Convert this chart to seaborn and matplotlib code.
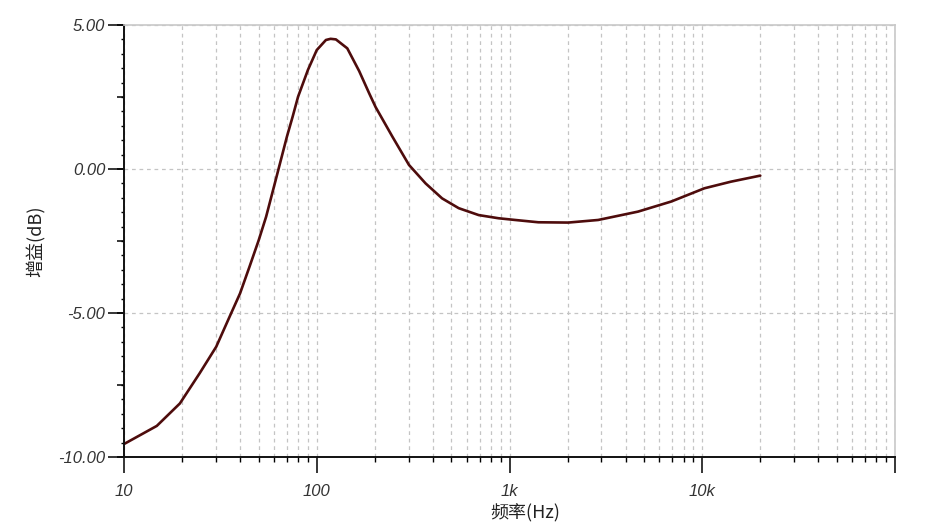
import numpy as np
import pandas as pd
import matplotlib
matplotlib.use("Agg")
import matplotlib.pyplot as plt
from matplotlib.ticker import FixedLocator, FuncFormatter, NullFormatter
import seaborn as sns

# frequency response
freq_hz = [10, 14.8, 19.5, 24.7, 30.1, 35.3, 40, 44.8, 50, 54.6, 60, 70, 75,
           80, 90, 100, 111.6, 118, 125.7, 144, 166, 187, 202, 247, 301, 367,
           447, 545, 692, 877, 1070, 1412, 2018, 2884, 4642, 6900, 10260, 14090, 20000]
gain_db = [-9.55, -8.92, -8.14, -7.09, -6.17, -5.13, -4.32, -3.39, -2.47, -1.66, -0.61, 1.12, 1.82,
           2.51, 3.44, 4.13, 4.48, 4.52, 4.50, 4.19, 3.40, 2.63, 2.15, 1.12, 0.14, -0.50,
           -1.02, -1.36, -1.60, -1.71, -1.77, -1.85, -1.86, -1.77, -1.48, -1.13, -0.67, -0.44, -0.23]

x_major = [10, 100, 1000, 10000, 100000]
x_labels = ["10", "100", "1k", "10k", ""]
y_major = [-10, -5, 0, 5]
y_labels = ["-10.00", "-5.00", "0.00", "5.00"]

df = pd.DataFrame({"freq": freq_hz, "gain": gain_db})

sns.set_style("white")
plt.rcParams["font.family"] = ["Liberation Sans", "Noto Sans CJK SC", "DejaVu Sans"]

fig = plt.figure(figsize=(9.4, 5.31), dpi=100)
ax = fig.add_axes([124 / 940, 1 - 457 / 531, 771 / 940, 432 / 531])

sns.lineplot(data=df, x="freq", y="gain", ax=ax, color="#4e0c0c", linewidth=1.9)

ax.set_xscale("log")
ax.set_xlim(10, 100000)
ax.set_ylim(-10, 5)

# x ticks
ax.xaxis.set_major_locator(FixedLocator(x_major))
ax.xaxis.set_major_formatter(FuncFormatter(lambda v, p: dict(zip(x_major, x_labels)).get(round(v), "")))
minor_x = [m * 10 ** k for k in range(1, 5) for m in range(2, 10)]
ax.xaxis.set_minor_locator(FixedLocator(minor_x))
ax.xaxis.set_minor_formatter(NullFormatter())

# y ticks
ax.yaxis.set_major_locator(FixedLocator(y_major))
ax.yaxis.set_major_formatter(FuncFormatter(lambda v, p: dict(zip(y_major, y_labels)).get(round(v), "")))
ax.yaxis.set_minor_locator(FixedLocator(np.arange(-10, 5.01, 0.5)))

ax.tick_params(axis="both", which="both", bottom=True, left=True, top=False, right=False)
ax.tick_params(axis="both", which="major", direction="out", length=11.5, width=1.1,
               color="black", labelsize=12, labelcolor="#333333")
ax.tick_params(axis="x", which="major", pad=8)
ax.tick_params(axis="y", which="major", pad=2)
ax.tick_params(axis="x", which="minor", direction="out", length=3.6, width=1.0, color="black")
ax.tick_params(axis="y", which="minor", direction="out", length=2.2, width=1.0, color="black")
for lab in ax.get_xticklabels() + ax.get_yticklabels():
    lab.set_fontstyle("italic")

# medium ticks at every 2.5 dB
sec = ax.secondary_yaxis("left")
sec.set_yticks(np.arange(-10, 5.01, 2.5))
sec.set_yticklabels([])
sec.tick_params(left=True, length=5, width=1.1, color="black")
sec.spines["left"].set_visible(False)

# grid
ax.grid(True, which="major", axis="y", color="#c4c4c4", linestyle=(0, (3, 3)), linewidth=0.9)
ax.grid(True, which="both", axis="x", color="#c4c4c4", linestyle=(0, (3, 3)), linewidth=0.9)

for s in ["left", "bottom"]:
    ax.spines[s].set_color("#111111")
    ax.spines[s].set_linewidth(1.4)
for s in ["top", "right"]:
    ax.spines[s].set_color("#c8c8c8")
    ax.spines[s].set_linewidth(1.2)

ax.set_xlabel("频率(Hz)", fontsize=13, color="#222222",
              family=["Noto Sans CJK SC", "DejaVu Sans"])
ax.xaxis.set_label_coords(0.521, -0.108)
ax.set_ylabel("增益(dB)", fontsize=13, color="#222222",
              family=["Noto Sans CJK SC", "DejaVu Sans"])
ax.yaxis.set_label_coords(-0.102, 0.5)

fig.savefig("out.png", dpi=100, facecolor="white")
